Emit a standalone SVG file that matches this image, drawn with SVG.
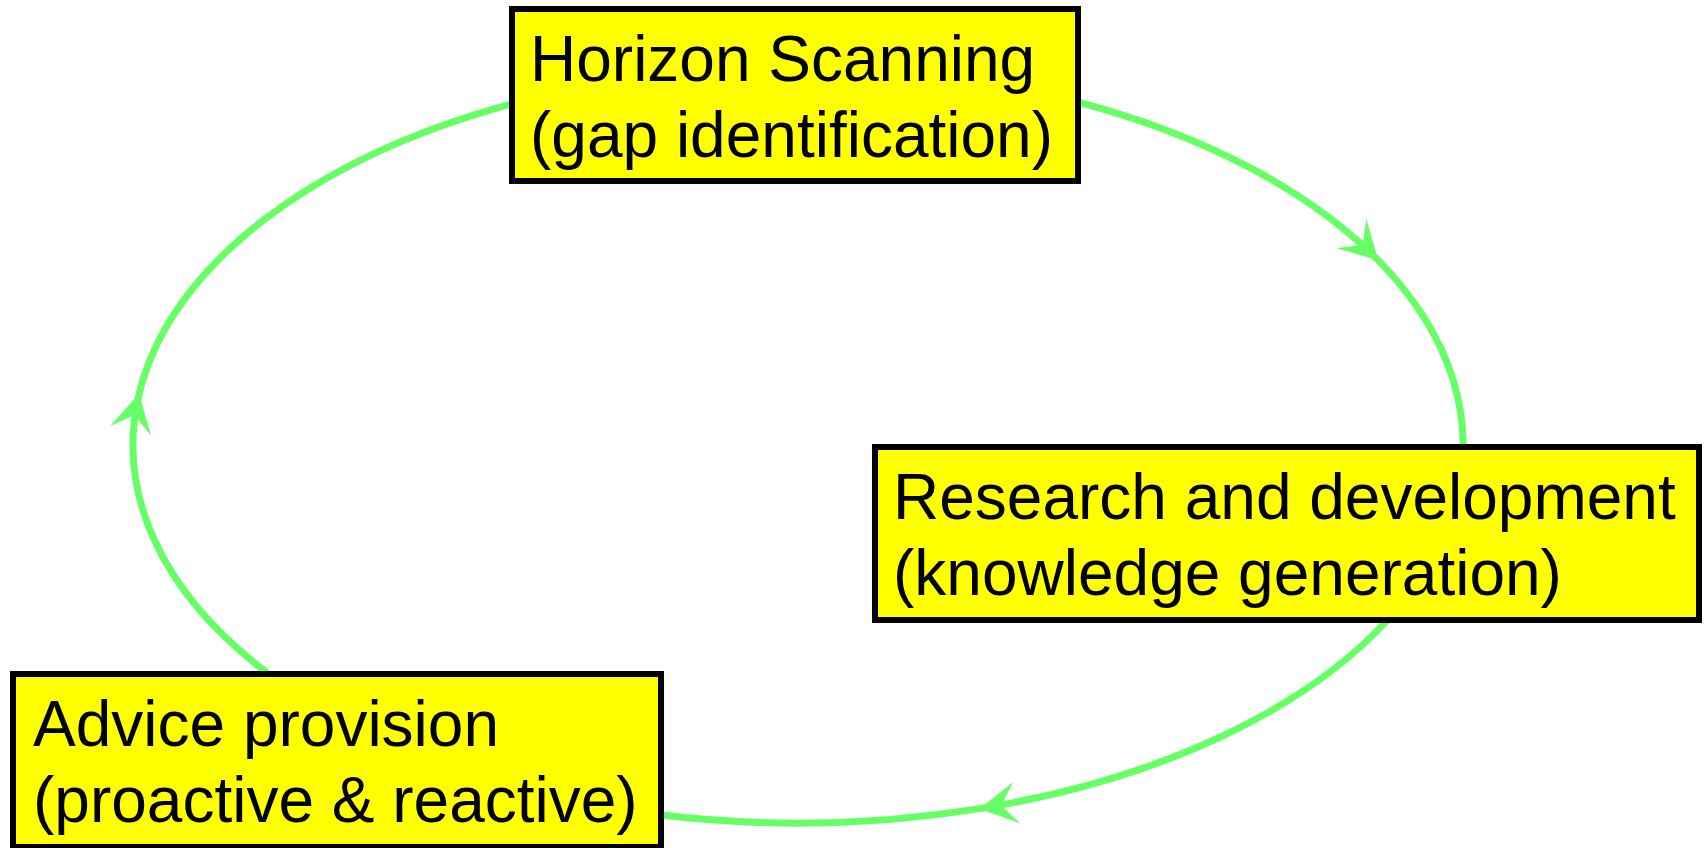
<svg xmlns="http://www.w3.org/2000/svg" width="1708" height="848" viewBox="0 0 1708 848">
<style>
.box{fill:#ffff00;stroke:#000;stroke-width:6}
.lbl{font-family:"Liberation Sans",Arial,sans-serif;font-size:64px;fill:#000}
.edge{fill:none;stroke:#66ff66;stroke-width:7;marker-mid:url(#arr)}
</style>
<defs>
<marker id="arr" markerUnits="userSpaceOnUse" orient="auto" refX="0" refY="0" markerWidth="80" markerHeight="80" overflow="visible">
<path d="M2,0 L-36,-21 L-20,0 L-36,21 Z" fill="#66ff66"/>
</marker>
</defs>
<rect width="1708" height="848" fill="#fff"/>
<g id="connectors">
<path class="edge" d="M1079,102.4 A665,378 0 0 1 1376.8,258.9 A665,378 0 0 1 1463,445"/>
<path class="edge" d="M1387.9,619.5 A665,378 0 0 1 981.3,808.4 A665,378 0 0 1 659.7,814.7"/>
<path class="edge" d="M266.9,672.5 A665,378 0 0 1 138.7,395.7 A665,378 0 0 1 511.7,103.8"/>
</g>
<g id="horizon">
<rect class="box" x="512" y="9" width="566" height="172"/>
<text class="lbl" x="530" y="81">Horizon Scanning</text>
<text class="lbl" x="530" y="157">(gap identification)</text>
</g>
<g id="research">
<rect class="box" x="875" y="447" width="824" height="173"/>
<text class="lbl" x="893" y="519">Research and development</text>
<text class="lbl" x="893" y="595">(knowledge generation)</text>
</g>
<g id="advice">
<rect class="box" x="13" y="674" width="648" height="173"/>
<text class="lbl" x="33" y="746">Advice provision</text>
<text class="lbl" x="33" y="822">(proactive &amp; reactive)</text>
</g>
</svg>
